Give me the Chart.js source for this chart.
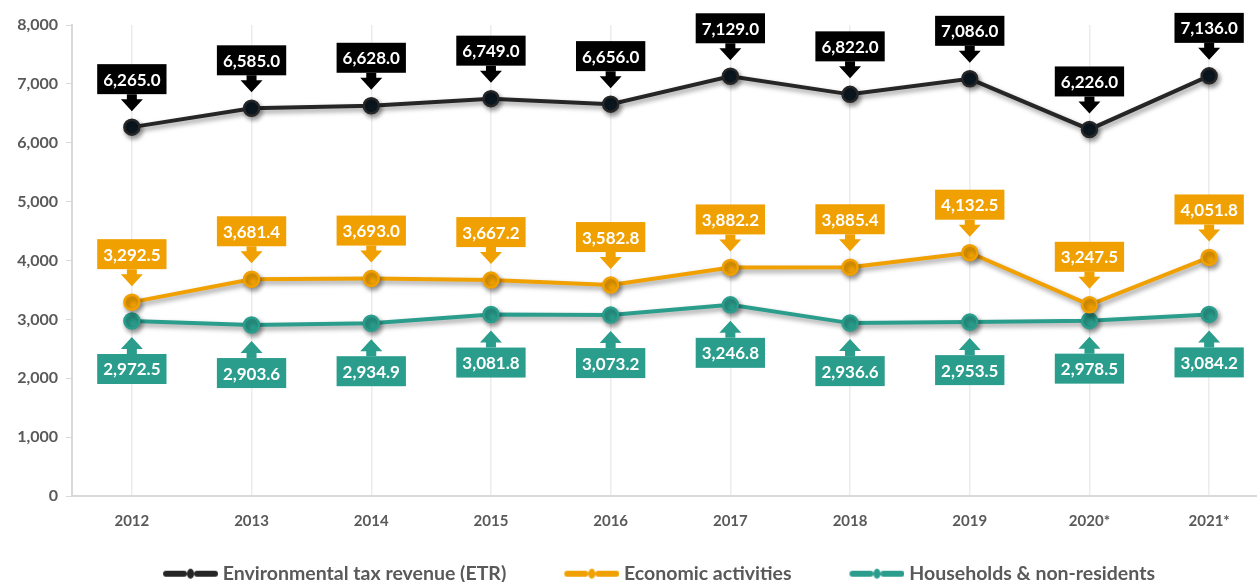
<!DOCTYPE html>
<html lang="en">
  <head>
    <meta charset="UTF-8" />
    <title>Environmental tax revenue</title>
    <style>
      body {
        margin: 0;
        background: #fff;
        overflow: hidden;
      }
      #chart {
        display: block;
      }
    </style>
  </head>
  <body>
    <canvas id="chart" width="1279" height="582"></canvas>
    <script src="https://cdn.jsdelivr.net/npm/chart.js"></script>
    <script>
      const years = ["2012", "2013", "2014", "2015", "2016", "2017", "2018", "2019", "2020*", "2021*"];
      const etr = [6265.0, 6585.0, 6628.0, 6749.0, 6656.0, 7129.0, 6822.0, 7086.0, 6226.0, 7136.0];
      const economic = [3292.5, 3681.4, 3693.0, 3667.2, 3582.8, 3882.2, 3885.4, 4132.5, 3247.5, 4051.8];
      const households = [2972.5, 2903.6, 2934.9, 3081.8, 3073.2, 3246.8, 2936.6, 2953.5, 2978.5, 3084.2];
      const yTicks = [0, 1000, 2000, 3000, 4000, 5000, 6000, 7000, 8000];

      const FONT = "Lato, 'Noto Sans', sans-serif";
      const GREY = "#595959";

      function fmt(v) {
        return v.toLocaleString("en-US", { minimumFractionDigits: 1, maximumFractionDigits: 1 });
      }

      // line-dot-line icon for the legend; empty room on the left acts as item spacing
      function legendIcon(color) {
        const c = document.createElement("canvas");
        c.width = 100;
        c.height = 12;
        const g = c.getContext("2d");
        g.strokeStyle = color;
        g.lineWidth = 6;
        g.lineCap = "round";
        g.beginPath();
        g.moveTo(48, 6);
        g.lineTo(66, 6);
        g.moveTo(79, 6);
        g.lineTo(97, 6);
        g.stroke();
        g.fillStyle = color;
        g.beginPath();
        g.ellipse(72.5, 6, 3.5, 5, 0, 0, Math.PI * 2);
        g.fill();
        return c;
      }

      const lineShadow = {
        id: "lineShadow",
        beforeDatasetDraw(chart) {
          const ctx = chart.ctx;
          ctx.save();
          ctx.shadowColor = "rgba(0,0,0,0.4)";
          ctx.shadowBlur = 5;
          ctx.shadowOffsetX = 2;
          ctx.shadowOffsetY = 3;
        },
        afterDatasetDraw(chart) {
          chart.ctx.restore();
        },
      };

      // fixed legend height so it sits close to the bottom edge
      const legendFit = {
        id: "legendFit",
        afterInit(chart) {
          const lg = chart.legend;
          const orig = lg.fit.bind(lg);
          lg.fit = function () {
            orig();
            this.height = this.options.labels.padding + 18;
          };
        },
      };

      const callouts = {
        id: "callouts",
        afterDatasetsDraw(chart) {
          const ctx = chart.ctx;
          ctx.save();
          ctx.font = "bold 17px " + FONT;
          ctx.textAlign = "center";
          ctx.textBaseline = "middle";
          chart.data.datasets.forEach((ds, i) => {
            const meta = chart.getDatasetMeta(i);
            const up = ds.labelDir === "up";
            meta.data.forEach((pt, j) => {
              const text = fmt(ds.data[j]);
              const w = ctx.measureText(text).width + 12;
              const h = 30;
              const x = pt.x;
              const s = up ? -1 : 1;
              const tip = pt.y + s * 16;
              const headBase = tip + s * 12;
              const boxEdge = pt.y + s * 33;
              ctx.fillStyle = ds.labelColor;
              ctx.beginPath();
              ctx.moveTo(x, tip);
              ctx.lineTo(x + 11, headBase);
              ctx.lineTo(x + 5, headBase);
              ctx.lineTo(x + 5, boxEdge);
              ctx.lineTo(x - 5, boxEdge);
              ctx.lineTo(x - 5, headBase);
              ctx.lineTo(x - 11, headBase);
              ctx.closePath();
              ctx.fill();
              const top = up ? boxEdge - h : boxEdge;
              ctx.fillRect(x - w / 2, top, w, h);
              ctx.fillStyle = "#fff";
              ctx.fillText(text, x, top + h / 2 + 1);
            });
          });
          ctx.restore();
        },
      };

      new Chart(document.getElementById("chart"), {
        type: "line",
        data: {
          labels: years,
          datasets: [
            {
              label: "Environmental tax revenue (ETR)",
              data: etr,
              borderColor: "#262626",
              pointBackgroundColor: "#0b1720",
              labelColor: "#000000",
              labelDir: "up",
              icon: legendIcon("#262626"),
            },
            {
              label: "Economic activities",
              data: economic,
              borderColor: "#f0a000",
              pointBackgroundColor: "#f0a000",
              labelColor: "#f0a000",
              labelDir: "up",
              icon: legendIcon("#f0a000"),
            },
            {
              label: "Households & non-residents",
              data: households,
              borderColor: "#2a9d8c",
              pointBackgroundColor: "#2a9d8c",
              labelColor: "#2a9d8c",
              labelDir: "down",
              icon: legendIcon("#2a9d8c"),
            },
          ],
        },
        options: {
          responsive: false,
          animation: false,
          layout: { padding: { top: 25, right: 1, left: 0, bottom: 0 } },
          elements: {
            line: { borderWidth: 4, tension: 0 },
            point: { radius: 7.5, borderColor: "#ffffff", borderWidth: 2.5 },
          },
          scales: {
            x: {
              offset: true,
              grid: { offset: false, color: "#ececec", lineWidth: 1.5, drawTicks: false },
              border: { color: "#d9d9d9", width: 2 },
              ticks: { color: GREY, font: { family: FONT, size: 15, weight: "bold" }, padding: 16 },
            },
            y: {
              min: 0,
              max: 8000,
              afterFit(scale) {
                scale.width = 72;
              },
              afterBuildTicks(scale) {
                scale.ticks = yTicks.map((v) => ({ value: v }));
              },
              grid: { drawOnChartArea: false, color: "#d9d9d9", tickLength: 6 },
              border: { color: "#d9d9d9", width: 2 },
              ticks: {
                color: GREY,
                padding: 8,
                font: { family: FONT, size: 16, weight: "bold" },
                callback: (v) => v.toLocaleString("en-US"),
              },
            },
          },
          plugins: {
            tooltip: { enabled: false },
            legend: {
              position: "bottom",
              labels: {
                usePointStyle: true,
                pointStyleWidth: 90,
                padding: 18,
                color: GREY,
                font: { family: FONT, size: 19.5, weight: "bold" },
                generateLabels(chart) {
                  return chart.data.datasets.map((ds, i) => ({
                    text: ds.label,
                    pointStyle: ds.icon,
                    fontColor: GREY,
                    datasetIndex: i,
                    hidden: false,
                    lineWidth: 0,
                  }));
                },
              },
            },
          },
        },
        plugins: [lineShadow, legendFit, callouts],
      });
    </script>
  </body>
</html>
